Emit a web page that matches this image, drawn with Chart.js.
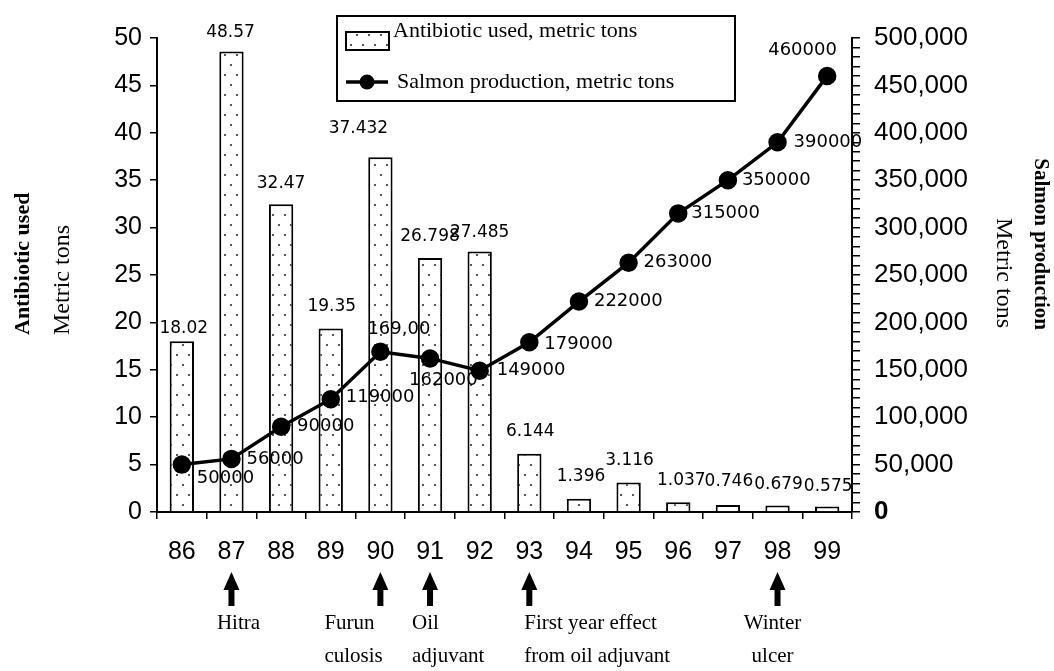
<!DOCTYPE html>
<html>
<head>
<meta charset="utf-8">
<script src="https://cdn.jsdelivr.net/npm/chart.js@4.4.0/dist/chart.umd.min.js"></script>
<style>
  body { margin: 0; background: #fff; }
  #wrap { width: 1054px; height: 671px; }
</style>
</head>
<body>
<div id="wrap"><canvas id="chart" width="1054" height="671"></canvas></div>
<script>
// data
const years = ['86', '87', '88', '89', '90', '91', '92', '93', '94', '95', '96', '97', '98', '99'];
const antibioticTons = [18.02, 48.57, 32.47, 19.35, 37.432, 26.798, 27.485, 6.144, 1.396, 3.116, 1.037, 0.746, 0.679, 0.575];
const salmonTons = [50000, 56000, 90000, 119000, 169000, 162000, 149000, 179000, 222000, 263000, 315000, 350000, 390000, 460000];
const salmonValueLabels = salmonTons.map(v => String(v));
salmonValueLabels[4] = '169,00'; // printed like this in the source

const eventYears = ['87', '90', '91', '93', '98'];
const eventLines = [
    ['Hitra'],
    ['Furun', 'culosis'],
    ['Oil', 'adjuvant'],
    ['First year effect', 'from oil adjuvant'],
    ['Winter', 'ulcer']
];

// label placement (pixels)
const barLabelDx = [2, -1, 0, 1, -22, 0, 0, 1, 2, 1, 3, 1, 1, 1];
const barLabelDy = [-13, -19, -21, -22, -29, -21, -19, -22, -22, -22, -22, -23, -21, -20];
const lineLabelDx = [15, 15, 16, 15, -13, -21, 17, 15, 15, 15, 13, 14, 16, -59];
const lineLabelDy = [14, 0, 0, -2, -22, 22, 0, 2, 0, 0, 0, 0, 0, -26];
const eventAlign = ['center', 'left', 'left', 'left', 'center'];
const eventDx = [7, -56, -18, -5, -5];

const SANS = 'Liberation Sans';
const SERIF = 'Liberation Serif';

function makeDots() {
    let c = document.createElement('canvas');
    c.width = 12;
    c.height = 20;
    let g = c.getContext('2d');
    g.fillStyle = '#fff';
    g.fillRect(0, 0, 12, 20);
    g.fillStyle = '#555';
    g.fillRect(2, 4, 2, 2);
    g.fillRect(8, 14, 2, 2);
    return document.getElementById('chart').getContext('2d').createPattern(c, 'repeat');
}
const dots = makeDots();

const extras = {
    id: 'extras',
    afterDatasetsDraw(chart) {
        const ctx = chart.ctx;
        ctx.save();
        ctx.fillStyle = '#000';
        ctx.textBaseline = 'middle';

        ctx.font = '17px "DejaVu Sans"';
        ctx.textAlign = 'center';
        chart.getDatasetMeta(0).data.forEach((el, i) => {
            ctx.fillText(String(antibioticTons[i]), el.x + barLabelDx[i], el.y + barLabelDy[i]);
        });

        ctx.font = '18px "DejaVu Sans"';
        ctx.textAlign = 'left';
        chart.getDatasetMeta(1).data.forEach((el, i) => {
            ctx.fillText(salmonValueLabels[i], el.x + lineLabelDx[i], el.y + lineLabelDy[i]);
        });
        ctx.restore();
    },
    afterDraw(chart) {
        const ctx = chart.ctx;
        const x = chart.scales.x;
        ctx.save();
        ctx.fillStyle = '#000';
        ctx.strokeStyle = '#000';

        // event arrows under the years
        eventYears.forEach((yr, i) => {
            let px = x.getPixelForValue(years.indexOf(yr));
            ctx.beginPath();
            ctx.moveTo(px, 572);
            ctx.lineTo(px - 8, 590);
            ctx.lineTo(px + 8, 590);
            ctx.closePath();
            ctx.fill();
            ctx.fillRect(px - 3, 588, 6, 18);

            ctx.font = '21px "' + SERIF + '"';
            ctx.textAlign = eventAlign[i];
            ctx.textBaseline = 'middle';
            eventLines[i].forEach((line, j) => {
                ctx.fillText(line, px + eventDx[i], 623 + j * 33);
            });
        });

        // axis titles
        ctx.textBaseline = 'middle';
        ctx.save();
        ctx.translate(23, 335);
        ctx.rotate(-Math.PI / 2);
        ctx.textAlign = 'left';
        ctx.font = 'bold 22px "' + SERIF + '"';
        ctx.fillText('Antibiotic used', 0, 0);
        ctx.restore();

        ctx.save();
        ctx.translate(63, 335);
        ctx.rotate(-Math.PI / 2);
        ctx.textAlign = 'left';
        ctx.font = '24px "' + SERIF + '"';
        ctx.fillText('Metric tons', 0, 0);
        ctx.restore();

        ctx.save();
        ctx.translate(1040, 330);
        ctx.rotate(Math.PI / 2);
        ctx.textAlign = 'right';
        ctx.font = 'bold 21px "' + SERIF + '"';
        ctx.fillText('Salmon production', 0, 0);
        ctx.restore();

        ctx.save();
        ctx.translate(1003, 328);
        ctx.rotate(Math.PI / 2);
        ctx.textAlign = 'right';
        ctx.font = '24px "' + SERIF + '"';
        ctx.fillText('Metric tons', 0, 0);
        ctx.restore();

        // legend box
        ctx.lineWidth = 2;
        ctx.fillStyle = '#fff';
        ctx.fillRect(337, 16, 398, 85);
        ctx.strokeRect(337, 16, 398, 85);

        ctx.fillStyle = dots;
        ctx.fillRect(346, 32, 43, 18);
        ctx.strokeRect(346, 32, 43, 18);

        ctx.lineWidth = 3.5;
        ctx.beginPath();
        ctx.moveTo(346, 82);
        ctx.lineTo(388, 82);
        ctx.stroke();
        ctx.fillStyle = '#000';
        ctx.beginPath();
        ctx.arc(367, 82, 7.5, 0, Math.PI * 2);
        ctx.fill();

        ctx.font = '22px "' + SERIF + '"';
        ctx.textAlign = 'left';
        ctx.textBaseline = 'middle';
        ctx.fillText('Antibiotic used, metric tons', 393, 31);
        ctx.fillText('Salmon production, metric tons', 397, 82);
        ctx.restore();
    }
};

new Chart(document.getElementById('chart'), {
    data: {
        labels: years,
        datasets: [
            {
                type: 'bar',
                label: 'Antibiotic used, metric tons',
                data: antibioticTons,
                yAxisID: 'yL',
                backgroundColor: dots,
                borderColor: '#000',
                borderWidth: 2,
                barPercentage: 0.49,
                categoryPercentage: 1,
                order: 1
            },
            {
                type: 'line',
                label: 'Salmon production, metric tons',
                data: salmonTons,
                yAxisID: 'yR',
                borderColor: '#000',
                borderWidth: 3.5,
                pointRadius: 7.5,
                pointBackgroundColor: '#000',
                pointBorderColor: '#000',
                tension: 0,
                order: 0
            }
        ]
    },
    options: {
        responsive: false,
        animation: false,
        layout: { padding: { top: 38, left: 0, right: 0, bottom: 0 } },
        plugins: {
            legend: { display: false },
            tooltip: { enabled: false }
        },
        scales: {
            x: {
                grid: { drawOnChartArea: false, tickLength: 7, color: '#000', lineWidth: 1.5, offset: true },
                border: { color: '#000', width: 2 },
                ticks: { color: '#000', font: { family: SANS, size: 25 }, padding: 18, maxRotation: 0, autoSkip: false },
                afterFit: s => { s.height = 159; }
            },
            yL: {
                position: 'left',
                min: 0,
                max: 50,
                grid: { drawOnChartArea: false, tickLength: 7, color: '#000', lineWidth: 1.5 },
                border: { color: '#000', width: 2 },
                ticks: { stepSize: 5, color: '#000', font: { family: SANS, size: 25 }, padding: 8 },
                afterFit: s => { s.width = 157; }
            },
            yR: {
                position: 'right',
                min: 0,
                max: 500000,
                grid: { drawOnChartArea: false, tickLength: 8, color: '#000', lineWidth: 1.5 },
                border: { color: '#000', width: 2 },
                ticks: {
                    stepSize: 10000,
                    autoSkip: false,
                    color: '#000',
                    padding: 14,
                    font: c => ({ family: SANS, size: 26, weight: (c.tick && c.tick.value === 0) ? 'bold' : 'normal' }),
                    callback: v => v % 50000 === 0 ? v.toLocaleString('en-US') : ''
                },
                afterFit: s => { s.width = 202; }
            }
        }
    },
    plugins: [extras]
});
</script>
</body>
</html>
